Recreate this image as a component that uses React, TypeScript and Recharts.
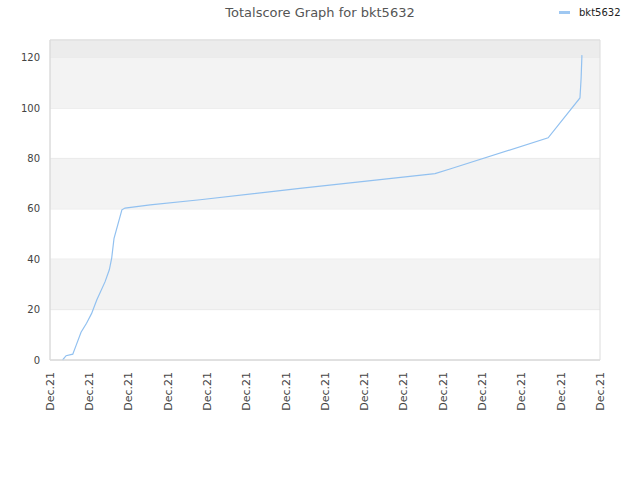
import { LineChart, Line, XAxis, YAxis, CartesianGrid, ReferenceArea } from 'recharts';

// x position measured in tick steps (0..14), all ticks read "Dec.21"
const dayPos = [0.32, 0.41, 0.58, 0.66, 0.79, 0.93, 1.06, 1.19, 1.4, 1.51, 1.57, 1.63, 1.83, 1.91, 2.55, 3.82, 6.36, 9.8, 10.18, 12.68, 13.49, 13.52, 13.54];
const totals = [0, 1.7, 2.3, 5.6, 11, 14.6, 18.5, 23.8, 31, 35.8, 40.4, 48.3, 59.6, 60.3, 61.6, 63.6, 68.1, 74, 75.8, 88.2, 104, 112, 121];
const xTicks = [0, 1, 2, 3, 4, 5, 6, 7, 8, 9, 10, 11, 12, 13, 14];
const tickLabels = ['Dec.21', 'Dec.21', 'Dec.21', 'Dec.21', 'Dec.21', 'Dec.21', 'Dec.21', 'Dec.21', 'Dec.21', 'Dec.21', 'Dec.21', 'Dec.21', 'Dec.21', 'Dec.21', 'Dec.21'];
const yTicks = [0, 20, 40, 60, 80, 100, 120];

const data = dayPos.map((d, i) => ({ day: d, score: totals[i] }));

const font = 'DejaVu Sans, sans-serif';

const DateTick = (props: any) => {
  const { x, y, payload } = props;
  return (
    <text x={x} y={y + 12} dy="0.35em" textAnchor="end" fontSize={11} fill="#444" fontFamily={font}
      transform={`rotate(-90, ${x}, ${y + 12})`}>
      {tickLabels[payload.index] ?? tickLabels[0]}
    </text>
  );
};

const App = () => {
  return (
    <div style={{ position: 'absolute', left: 0, top: 0, width: 640, height: 480, background: '#fff' }}>
      <div style={{ position: 'absolute', left: 0, width: 640, top: 5, textAlign: 'center', fontFamily: font, fontSize: 13, color: '#555' }}>
        Totalscore Graph for bkt5632
      </div>
      <div style={{ position: 'absolute', left: 559, top: 7, display: 'flex', alignItems: 'center', fontFamily: font, fontSize: 10, color: '#222' }}>
        <span style={{ width: 11, height: 3, background: '#9fc8f2', marginRight: 9 }} />
        <span>bkt5632</span>
      </div>
      <LineChart width={640} height={480} data={data} margin={{ top: 40, right: 40, bottom: 0, left: 0 }}>
        <ReferenceArea x1={0} x2={14} y1={20} y2={40} fill="#f3f3f3" fillOpacity={1} stroke="none" />
        <ReferenceArea x1={0} x2={14} y1={60} y2={80} fill="#f3f3f3" fillOpacity={1} stroke="none" />
        <ReferenceArea x1={0} x2={14} y1={100} y2={120} fill="#f3f3f3" fillOpacity={1} stroke="none" />
        <ReferenceArea x1={0} x2={14} y1={120} y2={127} fill="#ececec" fillOpacity={1} stroke="none" />
        <CartesianGrid vertical={false} stroke="#e0e0e0" />
        <ReferenceArea x1={0} x2={14} y1={0} y2={127} fill="none" stroke="#dcdcdc" />
        <XAxis dataKey="day" type="number" domain={[0, 14]} ticks={xTicks} interval={0}
          height={120} tickSize={0} tickMargin={0} tickLine={false} axisLine={{ stroke: '#dcdcdc' }}
          tick={<DateTick />} />
        <YAxis type="number" domain={[0, 127]} ticks={yTicks} width={50} tickSize={0} tickMargin={10}
          tickLine={false} axisLine={{ stroke: '#dcdcdc' }}
          tick={{ fontSize: 10, fill: '#444', fontFamily: font }} />
        <Line type="linear" dataKey="score" stroke="#92c1f0" strokeWidth={1.2} dot={false}
          activeDot={false} isAnimationActive={false} />
      </LineChart>
    </div>
  );
};

export default App;
